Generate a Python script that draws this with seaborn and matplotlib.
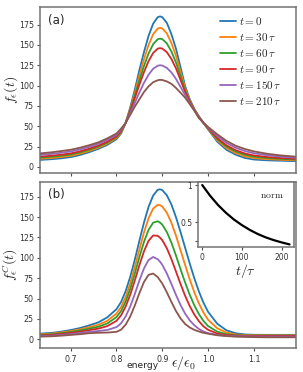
import matplotlib
matplotlib.use('Agg')
import numpy as np
import pandas as pd
import seaborn as sns
import matplotlib.pyplot as plt

sns.set_style('ticks')
plt.rcParams['font.family'] = ['DejaVu Sans']
plt.rcParams['mathtext.fontset'] = 'cm'
plt.rcParams['axes.edgecolor'] = '0.45'
plt.rcParams['axes.linewidth'] = 1.1
plt.rcParams['xtick.color'] = '0.3'
plt.rcParams['ytick.color'] = '0.3'
plt.rcParams['xtick.labelcolor'] = '0.2'
plt.rcParams['ytick.labelcolor'] = '0.2'

# energy grid (eps / eps_0)
energy = [0.633, 0.66, 0.68, 0.70, 0.72, 0.74, 0.76, 0.78, 0.80, 0.81, 0.82, 0.83,
          0.84, 0.85, 0.86, 0.87, 0.88, 0.89, 0.895, 0.90, 0.91, 0.92, 0.93, 0.94,
          0.95, 0.96, 0.97, 0.98, 0.99, 1.00, 1.02, 1.04, 1.06, 1.08, 1.10, 1.13,
          1.16, 1.192]

labels = [r'$t=0$', r'$t=30\,\tau$', r'$t=60\,\tau$', r'$t=90\,\tau$',
          r'$t=150\,\tau$', r'$t=210\,\tau$']

# panel (a): f_eps(t)
full_t0 = [8.5, 9.5, 10.5, 12, 14.5, 18, 22, 27, 34, 41, 54, 73, 95, 119, 141, 161, 176, 184,
           185, 184, 177, 163, 145, 122, 99, 83, 71, 62, 54, 46, 31, 21, 15, 11, 9, 8, 7.5, 7]
full_t30 = [9.9, 11.0, 12.1, 13.6, 16.1, 19.5, 23.4, 28.4, 35.3, 42.1, 54, 71.4, 91.2, 112.5,
            132.2, 149.8, 163.0, 170.0, 171.0, 170.1, 164.0, 152.0, 136.4, 116.4, 96.5, 81.9,
            70.6, 61.6, 54, 46.5, 32.6, 23.0, 17.0, 13.0, 10.8, 9.4, 8.7, 8.0]
full_t60 = [11.3, 12.5, 13.7, 15.2, 17.7, 21.0, 24.8, 29.8, 36.5, 43.1, 54, 69.9, 87.7, 106.4,
            123.9, 139.3, 150.8, 156.9, 157.7, 157.0, 151.8, 141.7, 128.2, 111.2, 94.1, 80.9,
            70.3, 61.3, 54, 47.1, 34.2, 24.9, 18.9, 14.9, 12.5, 10.8, 9.8, 8.9]
full_t90 = [12.5, 13.8, 15.0, 16.5, 19.0, 22.3, 26.0, 31.0, 37.5, 44.0, 54, 68.5, 84.5, 101.0,
            116.5, 130.0, 140.0, 145.3, 146.0, 145.4, 141.0, 132.5, 121.0, 106.5, 92.0, 80.0,
            70.0, 61.0, 54, 47.5, 35.5, 26.5, 20.5, 16.5, 14.0, 12.0, 10.8, 9.8]
full_t150 = [14.7, 16.0, 17.4, 18.9, 21.4, 24.5, 28.2, 33.2, 39.4, 45.6, 54, 66.1, 78.8, 91.3,
             103.3, 113.3, 120.6, 124.3, 124.9, 124.6, 121.6, 116.0, 108.0, 98.1, 88.2, 78.4,
             69.5, 60.5, 54, 48.3, 37.9, 29.5, 23.5, 19.5, 16.7, 14.2, 12.5, 11.2]
full_t210 = [16.5, 18, 19.5, 21, 23.5, 26.5, 30, 35, 41, 47, 54, 64, 74, 83, 92, 99, 104, 106.5,
             107, 106.8, 105, 102, 97, 91, 85, 77, 69, 60, 54, 49, 40, 32, 26, 22, 19, 16, 14, 12.5]

# panel (b): f^C_eps(t)
coh_t0 = [7, 8, 9.5, 11.4, 13.8, 17.1, 20.7, 27.0, 37.0, 45.8, 59.1, 76.6, 97.7, 120.9, 143.2,
          162.4, 176.3, 183.4, 184.0, 183.0, 176.6, 165.2, 149.6, 131.3, 112.1, 92.9, 74.8,
          58.6, 44.8, 33.7, 19.1, 11.1, 7.5, 6.0, 5.6, 5.5, 5.5, 5.5]
coh_t30 = [6.2, 7.1, 8.5, 10.1, 12.2, 14.9, 17.8, 22.8, 31.6, 39.6, 52.0, 68.6, 88.5, 110.3,
           131.1, 148.5, 160.3, 165.0, 164.5, 162.8, 155.2, 142.8, 127.0, 109.0, 90.9, 73.5,
           57.6, 44.0, 32.7, 24.0, 13.5, 8.3, 6.0, 5.3, 5.1, 5.0, 5.0, 5.0]
coh_t60 = [5.5, 6.3, 7.5, 9.0, 10.8, 13.1, 15.4, 19.5, 27.3, 34.7, 46.4, 62.0, 80.7, 100.8,
           119.5, 134.3, 143.1, 144.8, 143.2, 140.6, 131.5, 118.4, 102.6, 85.7, 69.5, 54.6,
           41.6, 30.9, 22.5, 16.3, 9.4, 6.3, 5.1, 4.7, 4.6, 4.6, 4.6, 4.6]
coh_t90 = [4.8, 5.5, 6.6, 7.9, 9.3, 11.3, 13.1, 16.2, 22.7, 29.4, 40.2, 54.7, 72.2, 90.9, 107.9,
           120.8, 127.4, 127.0, 124.7, 121.6, 111.6, 98.3, 83.0, 67.6, 53.2, 40.7, 30.3, 22.2,
           15.9, 11.7, 7.1, 5.3, 4.6, 4.3, 4.2, 4.2, 4.2, 4.2]
coh_t150 = [4.0, 4.6, 5.4, 6.5, 7.7, 9.2, 10.2, 11.5, 15.0, 19.6, 28.1, 40.3, 55.6, 72.2, 87.0,
            97.3, 101.0, 98.3, 95.2, 91.4, 80.7, 67.8, 54.4, 41.9, 31.4, 23.3, 17.2, 12.7, 9.6,
            7.6, 5.4, 4.4, 3.9, 3.7, 3.5, 3.4, 3.4, 3.4]
coh_t210 = [3.3, 3.8, 4.5, 5.4, 6.3, 7.5, 8.1, 8.3, 9.2, 11.8, 18.0, 28.0, 41.5, 56.7, 70.3,
            79.1, 80.7, 76.4, 72.4, 68.4, 57.6, 45.7, 34.6, 25.5, 18.8, 14.5, 11.6, 9.6, 8.0,
            6.9, 5.0, 4.0, 3.3, 3.0, 2.7, 2.5, 2.5, 2.5]

# inset: norm vs t/tau
t_norm = [0, 20, 40, 60, 80, 100, 120, 140, 160, 180, 200, 220]
norm = [1.0, 0.855, 0.73, 0.625, 0.535, 0.46, 0.395, 0.34, 0.295, 0.258, 0.227, 0.2]

full = [full_t0, full_t30, full_t60, full_t90, full_t150, full_t210]
coh = [coh_t0, coh_t30, coh_t60, coh_t90, coh_t150, coh_t210]
colors = sns.color_palette('tab10', 6)

fig = plt.figure(figsize=(3.03, 3.72), dpi=100)
ax_a = fig.add_axes([0.132, 0.534, 0.845, 0.446])
ax_b = fig.add_axes([0.132, 0.0637, 0.845, 0.448])
ax_in = fig.add_axes([0.653, 0.335, 0.317, 0.1755])

for vals_a, vals_b, lab, c in zip(full, coh, labels, colors):
    sns.lineplot(x=energy, y=vals_a, ax=ax_a, color=c, lw=1.3, label=lab)
    sns.lineplot(x=energy, y=vals_b, ax=ax_b, color=c, lw=1.3, legend=False)

xticks = [0.7, 0.8, 0.9, 1.0, 1.1]
yticks = [0, 25, 50, 75, 100, 125, 150, 175]
for ax in (ax_a, ax_b):
    ax.set_xlim(0.633, 1.192)
    ax.set_xticks(xticks)
    ax.set_yticks(yticks)
    ax.tick_params(labelsize=5.7, length=2.5, width=0.8, pad=2)
ax_a.set_ylim(-8, 196)
ax_b.set_ylim(-11, 193.4)
ax_a.tick_params(labelbottom=False)
ax_b.set_xticklabels(['0.7', '0.8', '0.9', '1.0', '1.1'])

ax_a.set_ylabel(r'$f_\epsilon(t)$', fontsize=10)
ax_b.set_ylabel(r'$f^C_\epsilon(t)$', fontsize=10)
ax_a.yaxis.set_label_coords(-0.08, 0.5)
ax_b.yaxis.set_label_coords(-0.08, 0.5)
ax_a.text(0.03, 0.96, '(a)', transform=ax_a.transAxes, fontsize=8.5, va='top', color='0.15')
ax_b.text(0.03, 0.96, '(b)', transform=ax_b.transAxes, fontsize=8.5, va='top', color='0.15')

ax_b.text(0.465, -0.12, 'energy', transform=ax_b.transAxes, ha='right', va='baseline',
          fontsize=6.6, color='0.15')
ax_b.text(0.51, -0.115, r'$\epsilon/\epsilon_0$', transform=ax_b.transAxes, ha='left',
          va='baseline', fontsize=10, color='0.15')

ax_a.legend(loc='upper right', frameon=False, fontsize=8, handlelength=1.4,
            handletextpad=0.3, labelspacing=0.35, borderaxespad=0.3,
            bbox_to_anchor=(0.975, 1.0))

# inset
sns.lineplot(x=t_norm, y=norm, ax=ax_in, color='black', lw=1.6)
ax_in.set_xlim(-11, 231)
ax_in.set_ylim(0.16, 1.04)
ax_in.set_xticks([0, 100, 200])
ax_in.set_yticks([0.25, 0.5, 1.0])
ax_in.set_yticklabels(['', '0.5', '1'])
ax_in.tick_params(labelsize=5.5, length=2.5, width=0.8, pad=1.5)
ax_in.set_xlabel(r'$t/\tau$', fontsize=10, labelpad=0)
ax_in.set_facecolor('white')
ax_in.text(0.77, 0.8, r'$\mathrm{norm}$', transform=ax_in.transAxes, ha='center',
           va='center', fontsize=7)

fig.savefig('out.png', dpi=100)
